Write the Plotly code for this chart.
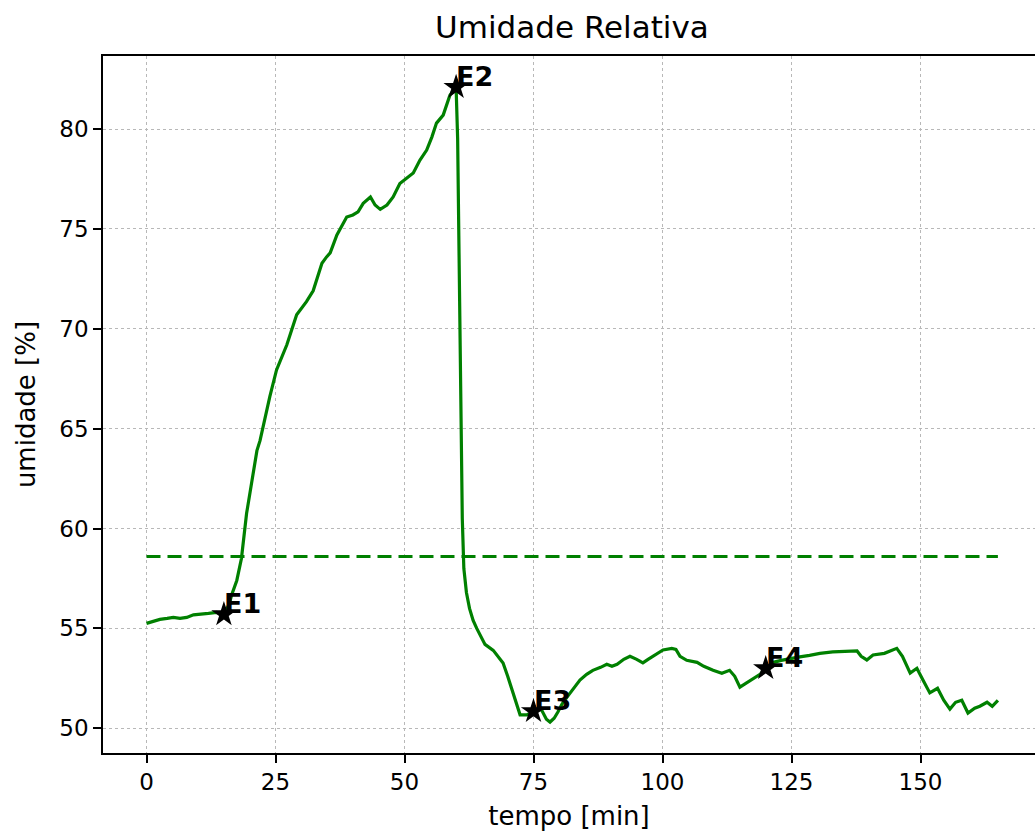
import plotly.graph_objects as go

# Relative humidity record (time in minutes, humidity in %)
tempo = [0, 1.5, 2.6, 4, 5.2, 6.5, 7.8, 9.1, 10.5, 12, 13.6, 15, 16, 16.5, 17.5,
         18.1, 18.4, 19.4, 20.4, 21.4, 22, 23, 23.9, 25.2, 26.2, 27.2, 29.1, 31.0,
         32.3, 34.0, 34.9, 35.6, 36.9, 38.8, 40.0, 41.0, 42.0, 43.4, 44.3, 45.3,
         46.6, 47.8, 49.1, 50.7, 51.7, 53.0, 54.3, 55.3, 56.2, 57.5, 58.8, 59.5,
         60.0, 60.3, 60.6, 60.9, 61.2, 61.5, 62.0, 62.6, 63.3, 64.0, 64.6, 65.6,
         67.2, 68.2, 69.1, 70.0, 71.0, 72.4, 73.7, 75.0, 75.8, 76.6, 77.5, 78.2,
         79.0, 79.7, 80.5, 81.5, 82.8, 84.0, 85.3, 86.5, 88.0, 89.2, 90.2, 91.2,
         92.5, 93.7, 95.0, 96.2, 97.2, 98.2, 100.1, 101.8, 102.6, 103.4, 104.7,
         106.7, 108.0, 109.8, 111.5, 113.0, 114.0, 115.0, 116.5, 118.9, 120.0,
         121.5, 123.0, 124.8, 126.6, 128.5, 130.5, 133.0, 135.4, 137.7, 138.5,
         139.6, 140.8, 143.0, 145.4, 146.5, 148.0, 149.3, 150.5, 151.8, 153.3,
         154.5, 155.7, 156.8, 158.0, 159.2, 160.5, 161.5, 162.9, 163.9, 165.0]

umidade = [55.25, 55.35, 55.45, 55.5, 55.55, 55.5, 55.55, 55.68, 55.7, 55.75, 55.8,
           55.7, 56.2, 56.67, 57.4, 58.26, 58.5, 60.76, 62.4, 63.9, 64.4, 65.6,
           66.6, 67.94, 68.6, 69.2, 70.7, 71.36, 71.9, 73.28, 73.6, 73.8, 74.7,
           75.6, 75.7, 75.86, 76.28, 76.6, 76.2, 75.98, 76.2, 76.6, 77.28, 77.6,
           77.8, 78.45, 78.95, 79.6, 80.3, 80.7, 81.7, 81.95, 82.1, 79.5, 74.0,
           67.0, 60.5, 58.0, 56.8, 56.0, 55.4, 55.0, 54.7, 54.2, 53.9, 53.6, 53.27,
           52.6, 51.77, 50.67, 50.67, 50.85, 50.95, 50.9, 50.45, 50.31, 50.5, 50.8,
           51.2, 51.56, 52.0, 52.41, 52.7, 52.9, 53.05, 53.2, 53.1, 53.2, 53.45,
           53.6, 53.45, 53.27, 53.45, 53.6, 53.92, 54.0, 53.95, 53.6, 53.4, 53.3,
           53.1, 52.9, 52.75, 52.9, 52.6, 52.06, 52.3, 52.7, 53.0, 53.3, 53.4, 53.5,
           53.57, 53.65, 53.75, 53.82, 53.85, 53.87, 53.6, 53.42, 53.67, 53.75,
           54.0, 53.6, 52.76, 53.0, 52.4, 51.77, 52.0, 51.4, 50.96, 51.3, 51.4,
           50.76, 51.0, 51.1, 51.3, 51.1, 51.4]

# Mean level drawn as a dashed reference line
media = 58.6

# Marked events
eventos = ["E1", "E2", "E3", "E4"]
eventos_t = [15, 60, 75, 120]
eventos_v = [55.7, 82.1, 50.85, 53.0]

x_ticks = [0, 25, 50, 75, 100, 125, 150]
y_ticks = [50, 55, 60, 65, 70, 75, 80]

FONT = "DejaVu Sans"
GREEN = "#008000"

fig = go.Figure()

fig.add_trace(go.Scatter(
    x=tempo, y=umidade, mode="lines",
    line=dict(color=GREEN, width=3.2),
    showlegend=False, hoverinfo="skip",
))

fig.add_trace(go.Scatter(
    x=[tempo[0], tempo[-1]], y=[media, media], mode="lines",
    line=dict(color=GREEN, width=3.0, dash="14px,7px"),
    showlegend=False, hoverinfo="skip",
))

fig.add_trace(go.Scatter(
    x=eventos_t, y=eventos_v, mode="markers",
    marker=dict(symbol="star", size=19, color="black",
                line=dict(width=0)),
    showlegend=False, hoverinfo="skip",
))

for nome, tx, vy in zip(eventos, eventos_t, eventos_v):
    fig.add_annotation(
        x=tx, y=vy, text=f"<b>{nome}</b>", showarrow=False,
        xanchor="left", yanchor="bottom", xshift=-2, yshift=-7,
        font=dict(family=FONT, size=27, color="black"),
    )

axis_common = dict(
    showgrid=True, gridcolor="#b8b8b8", gridwidth=1, griddash="dot",
    zeroline=False, showline=True, linecolor="black", linewidth=1.6,
    ticks="outside", ticklen=8, tickwidth=1.6, tickcolor="black",
    tickfont=dict(family=FONT, size=23, color="black"),
)

fig.update_xaxes(
    range=[-8.43, 172.19], tickvals=x_ticks, mirror=True,
    title=dict(text="tempo [min]", font=dict(family=FONT, size=26, color="black"),
               standoff=12),
    **axis_common,
)
fig.update_yaxes(
    range=[48.76, 83.66], tickvals=y_ticks,
    title=dict(text="umidade [%]", font=dict(family=FONT, size=26, color="black"),
               standoff=16),
    **axis_common,
)

fig.update_layout(
    width=1035, height=840,
    margin=dict(l=103, r=0, t=56, b=87),
    paper_bgcolor="white", plot_bgcolor="white",
    title=dict(text="Umidade Relativa", x=0.5032, xref="paper", xanchor="center",
               y=0.968, yanchor="middle",
               font=dict(family=FONT, size=31, color="black")),
)

fig.write_html("out.html")
